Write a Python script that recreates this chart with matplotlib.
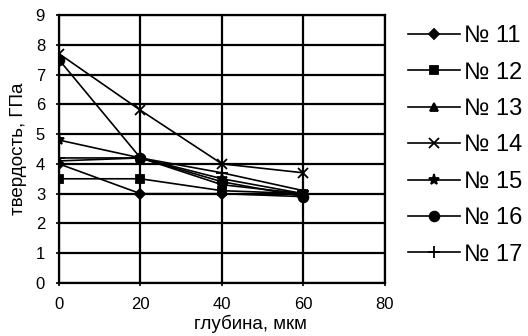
import matplotlib
matplotlib.use('Agg')
import matplotlib.pyplot as plt

plt.rcParams['font.family'] = ['Liberation Sans', 'DejaVu Sans']

# глубина, мкм
depth = [0, 20, 40, 60]

# твердость, ГПа
s11 = [4.0, 3.0, 3.0, 2.9]
s12 = [3.5, 3.5, 3.1, 3.0]
s13 = [4.1, 4.2, 3.3, 3.0]
s14 = [7.7, 5.8, 4.0, 3.7]
s15 = [4.8, 4.2, 3.5, 3.0]
s16 = [7.5, 4.2, 3.4, 2.9]
s17 = [4.2, 4.2, 3.7, 3.1]

labels = ['№ 11', '№ 12', '№ 13', '№ 14', '№ 15', '№ 16', '№ 17']
series = [s11, s12, s13, s14, s15, s16, s17]
markers = ['D', 's', '^', 'x', '*', 'o', '+']
msizes = [5, 6, 6, 7, 8, 7, 8]

fig = plt.figure(figsize=(5.28, 3.36), dpi=100)
ax = fig.add_axes([0.1117, 0.1577, 0.6174, 0.7977])

for vals, lab, m, ms in zip(series, labels, markers, msizes):
    ax.plot(depth, vals, color='black', lw=1.2, marker=m, ms=ms,
            mew=1.3, mfc='black', mec='black', label=lab)

ax.set_xlim(0, 80)
ax.set_ylim(0, 9)
ax.set_xticks([0, 20, 40, 60, 80])
ax.set_yticks(range(0, 10))
ax.grid(True, color='black', lw=1.6)
for sp in ax.spines.values():
    sp.set_linewidth(1.6)
ax.tick_params(axis='both', labelsize=12, length=4, width=1.2, direction='inout', pad=8)

ax.set_xlabel('глубина, мкм', fontsize=13.5, labelpad=2, x=0.586)
ax.set_ylabel('твердость, ГПа', fontsize=13.5, labelpad=6)

fig.legend(loc='upper left', bbox_to_anchor=(0.773, 0.925), frameon=False,
           fontsize=17, handlelength=2.2, handletextpad=0.15, labelspacing=0.61,
           borderaxespad=0, borderpad=0)

fig.savefig('out.png', dpi=100)
